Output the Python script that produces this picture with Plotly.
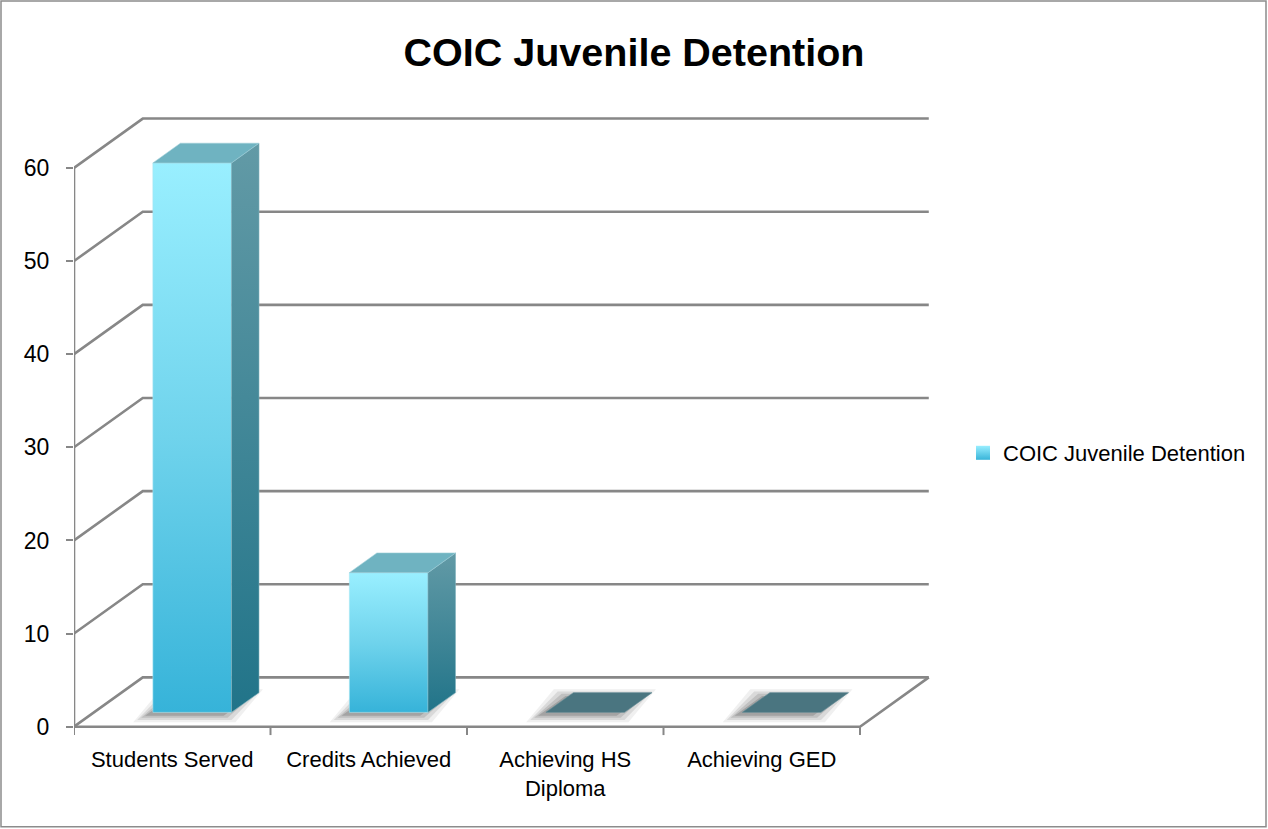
import plotly.graph_objects as go

# ---------------- data ----------------
categories = ["Students Served", "Credits Achieved", "Achieving HS<br>Diploma", "Achieving GED"]
values = [59, 15, 0, 0]
series_name = "COIC Juvenile Detention"
y_ticks = [0, 10, 20, 30, 40, 50, 60]
title_text = "COIC Juvenile Detention"

# ---------------- 3D projection settings ----------------
DX = 0.35      # depth shift along x (category units)
DY = 5.3       # depth shift along y (value units)
D0, D1 = 0.29, 0.69   # bar front / back depth fraction
HW = 0.2       # bar half-width (category units)
n = len(categories)
x_lo, x_hi = -0.5, n - 0.5
y_top = max(y_ticks)

FONT = "Liberation Sans, Arial, sans-serif"
GRID = "#878787"

fig = go.Figure()

def poly(xs, ys, **kw):
    fig.add_trace(go.Scatter(x=xs, y=ys, mode="lines", showlegend=False,
                             hoverinfo="skip", **kw))

# gridlines on side wall and back wall
for v in y_ticks:
    poly([x_lo, x_lo + DX, x_hi + DX], [v, v + DY, v + DY],
         line=dict(color=GRID, width=2.6))

# floor front edge and right edge
poly([x_lo, x_hi, x_hi + DX], [0, 0, DY], line=dict(color=GRID, width=2.6))

# category tick marks (boundaries)
for k in range(n + 1):
    b = x_lo + k
    poly([b, b], [0, -0.9], line=dict(color=GRID, width=2))

# bars
for i, v in enumerate(values):
    fx0 = i - HW + D0 * DX
    fx1 = i + HW + D0 * DX
    bx0 = i - HW + D1 * DX
    bx1 = i + HW + D1 * DX
    fy = D0 * DY
    by = D1 * DY
    # soft shadow on the floor
    for grow, alpha in [(0.06, 0.08), (0.04, 0.12), (0.02, 0.16), (0.0, 0.22)]:
        sx = -0.04
        poly([fx0 + sx - grow, fx1 + sx + grow, bx1 + sx + grow, bx0 + sx - grow, fx0 + sx - grow],
             [fy - 0.35 - grow * 12, fy - 0.35 - grow * 12, by - 0.35 + grow * 12, by - 0.35 + grow * 12, fy - 0.35 - grow * 12],
             fill="toself", fillcolor=f"rgba(60,60,60,{alpha})", line=dict(width=0))
    if v > 0:
        # front face
        poly([fx0, fx1, fx1, fx0, fx0], [fy, fy, fy + v, fy + v, fy],
             fill="toself",
             fillgradient=dict(type="vertical",
                               colorscale=[[0, "#36B3D9"], [0.5, "#6FD3EC"], [1, "#99EFFF"]]),
             line=dict(width=0.6, color="#A8E6F2"))
        # side face
        poly([fx1, bx1, bx1, fx1, fx1], [fy, by, by + v, fy + v, fy],
             fill="toself",
             fillgradient=dict(type="vertical",
                               colorscale=[[0, "#217489"], [1, "#629AA6"]]),
             line=dict(width=0.6, color="#7FB2BD"))
        # top face
        poly([fx0, fx1, bx1, bx0, fx0], [fy + v, fy + v, by + v, by + v, fy + v],
             fill="toself", fillcolor="#6FB3C1", line=dict(width=0.6, color="#9FCFD8"))
    else:
        poly([fx0, fx1, bx1, bx0, fx0], [fy, fy, by, by, fy],
             fill="toself", fillcolor="#4A7580", line=dict(width=0.6, color="#5E8A94"))

# front value axis line
poly([x_lo, x_lo], [0, y_top], line=dict(color=GRID, width=2.6))

# legend entry
fig.add_trace(go.Scatter(x=[None], y=[None], name=series_name, mode="markers",
                         marker=dict(symbol="square", size=14, color="#98EEFF",
                                     gradient=dict(type="vertical", color="#38B4D9"),
                                     line=dict(width=0))))

# ---------------- layout ----------------
W, H = 1268, 829
ml, mr, mt, mb = 74, 328, 100, 92.7
pw, ph = W - ml - mr, H - mt - mb

fig.update_layout(
    width=W, height=H,
    margin=dict(l=ml, r=mr, t=mt, b=mb, pad=0, autoexpand=False),
    paper_bgcolor="white", plot_bgcolor="white",
    font=dict(family=FONT, color="#000000", size=22),
    title=dict(text=f"<b>{title_text}</b>", x=0.5, xref="container", xanchor="center",
               y=1 - 52 / H, yref="container", yanchor="middle",
               font=dict(family=FONT, size=39.5, color="#000000")),
    xaxis=dict(range=[x_lo, x_lo + pw / 196.5], tickvals=list(range(n)), ticktext=categories,
               showgrid=False, zeroline=False, showline=False, ticks="",
               tickfont=dict(size=22, family=FONT), ticklabelstandoff=8, fixedrange=True),
    yaxis=dict(range=[-1.0, -1.0 + ph / 9.317], tickvals=y_ticks,
               showgrid=False, zeroline=False, showline=False,
               ticks="outside", ticklen=7, tickwidth=2, tickcolor=GRID,
               tickfont=dict(size=23, family=FONT), ticklabelstandoff=12, fixedrange=True),
    legend=dict(xref="container", yref="container", x=963 / W, y=1 - 453 / H,
                xanchor="left", yanchor="middle",
                font=dict(size=22, family=FONT), bgcolor="rgba(0,0,0,0)",
                itemsizing="trace"),
    showlegend=True,
    shapes=[dict(type="rect", xref="paper", yref="paper",
                 x0=(1 - ml) / pw, x1=(W - 2 - ml) / pw,
                 y0=-(mb - 2) / ph, y1=1 + (mt - 1) / ph,
                 line=dict(color="#8C8C8C", width=1.5), fillcolor="rgba(0,0,0,0)", layer="below")],
)

fig.write_html("out.html")
